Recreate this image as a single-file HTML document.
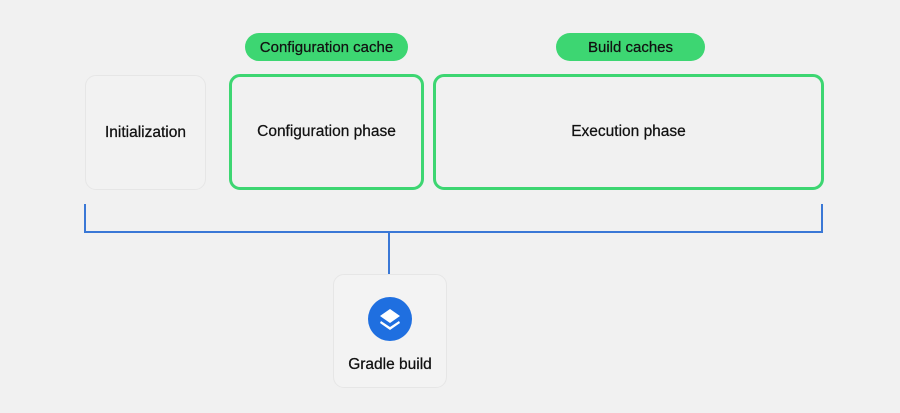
<!DOCTYPE html>
<html><head><style>
body{margin:0;width:900px;height:413px;background:#f1f1f1;font-family:"Liberation Sans",sans-serif;position:relative;overflow:hidden}
.b{position:absolute;box-sizing:border-box;border-radius:11px;display:flex;align-items:center;justify-content:center;font-size:15.5px;color:#111;-webkit-text-stroke:0.25px #111}
.g{border:3px solid #3dd672}
.p{position:absolute;background:#3dd672;border-radius:14px;height:28px;display:flex;align-items:center;justify-content:center;font-size:15px;color:#111;-webkit-text-stroke:0.25px #111}
.l{position:absolute;background:#3a78d6}
</style></head><body>
<div class="b" style="left:85px;top:75px;width:121px;height:115px;border:1px solid #e6e6e6;background:#f2f2f2">Initialization</div>
<div class="b g" style="left:229px;top:74px;width:195px;height:116px">Configuration phase</div>
<div class="b g" style="left:433px;top:74px;width:391px;height:116px">Execution phase</div>
<div class="p" style="left:245px;top:33px;width:163px">Configuration cache</div>
<div class="p" style="left:556px;top:33px;width:149px">Build caches</div>
<div class="l" style="left:84px;top:204px;width:2px;height:29px"></div>
<div class="l" style="left:821px;top:204px;width:2px;height:29px"></div>
<div class="l" style="left:84px;top:231px;width:739px;height:2px"></div>
<div class="l" style="left:388px;top:231px;width:2px;height:43px"></div>
<div class="b" style="left:333px;top:274px;width:114px;height:114px;border:1px solid #e6e6e6;background:#f3f3f3;flex-direction:column;justify-content:flex-start">
<svg width="46" height="46" style="margin-top:21px" viewBox="0 0 46 46"><circle cx="23" cy="23" r="22" fill="#1f6fe0"/><path d="M23 13 L33 20 L23 27 L13 20Z" fill="#fff"/><path d="M14 25 L23 31 L32 25 L33 27 L23 34 L13 27Z" fill="#fff"/></svg>
<div style="margin-top:14px">Gradle build</div></div>
</body></html>
